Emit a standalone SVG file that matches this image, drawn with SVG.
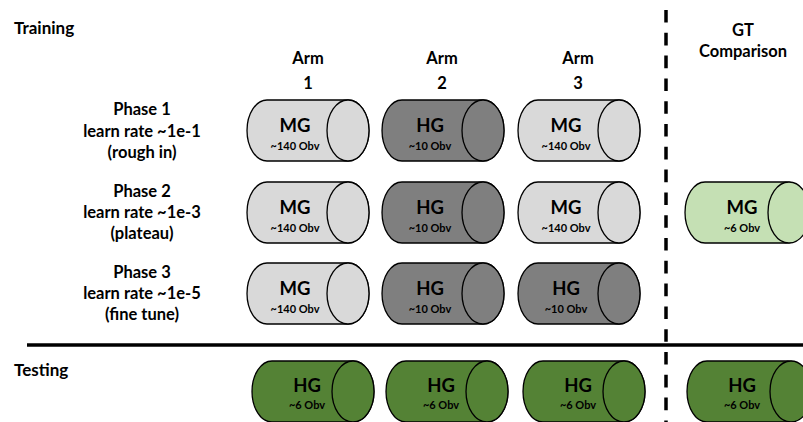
<svg xmlns="http://www.w3.org/2000/svg" width="803" height="422" viewBox="0 0 803 422">
<defs>
<style>
text{font-family:Lato,"Liberation Sans",Arial,sans-serif;font-weight:bold;fill:#000}
.lbl{font-size:16.5px;text-anchor:middle}
.hdr{font-size:17px}
.big{font-size:18.5px;text-anchor:middle}
.sm{font-size:11px;text-anchor:middle}
.cyl{stroke:#000;stroke-width:1.3}
.lg{fill:#d9d9d9}
.dg{fill:#7f7f7f}
.gg{fill:#c5e0b4}
.dgr{fill:#548235}
</style>
<path id="cylBody" d="M20,0 L101,0 A21 30.5 0 0 1 101,61 L20,61 A20 30.5 0 0 1 20,0 Z"/>
</defs>
<rect width="803" height="422" fill="#fff"/>
<text class="hdr" x="14" y="34">Training</text>
<text class="hdr" x="14" y="376">Testing</text>
<g id="arm-headers">
<text class="lbl" x="308" y="64">Arm</text><text class="lbl" x="308" y="89">1</text>
<text class="lbl" x="442" y="64">Arm</text><text class="lbl" x="442" y="89">2</text>
<text class="lbl" x="578" y="64">Arm</text><text class="lbl" x="578" y="89">3</text>
<text class="lbl" x="743" y="36">GT</text><text class="lbl" x="743" y="57">Comparison</text>
</g>
<g id="phase-labels">
<text class="lbl" x="142" y="115">Phase 1</text>
<text class="lbl" x="142" y="137">learn rate ~1e-1</text>
<text class="lbl" x="142" y="158">(rough in)</text>
<text class="lbl" x="142" y="197">Phase 2</text>
<text class="lbl" x="142" y="218">learn rate ~1e-3</text>
<text class="lbl" x="142" y="239">(plateau)</text>
<text class="lbl" x="142" y="278">Phase 3</text>
<text class="lbl" x="142" y="299">learn rate ~1e-5</text>
<text class="lbl" x="142" y="320">(fine tune)</text>
</g>
<g id="connectors">
<line x1="27" y1="345" x2="803" y2="345" stroke="#000" stroke-width="3.5"/>
<line x1="666" y1="10" x2="666" y2="422" stroke="#000" stroke-width="3.5" stroke-dasharray="12.6 10.2"/>
</g>
<g id="r1c1" transform="translate(247,100)"><use href="#cylBody" class="cyl lg"/><ellipse cx="101" cy="30.5" rx="21" ry="30.5" class="cyl lg"/><text class="big" x="48" y="32">MG</text><text class="sm" x="48" y="50">~140 Obv</text></g>
<g id="r1c2" transform="translate(382,100)"><use href="#cylBody" class="cyl dg"/><ellipse cx="101" cy="30.5" rx="21" ry="30.5" class="cyl dg"/><text class="big" x="48" y="32">HG</text><text class="sm" x="48" y="50">~10 Obv</text></g>
<g id="r1c3" transform="translate(518,100)"><use href="#cylBody" class="cyl lg"/><ellipse cx="101" cy="30.5" rx="21" ry="30.5" class="cyl lg"/><text class="big" x="48" y="32">MG</text><text class="sm" x="48" y="50">~140 Obv</text></g>
<g id="r2c1" transform="translate(247,182)"><use href="#cylBody" class="cyl lg"/><ellipse cx="101" cy="30.5" rx="21" ry="30.5" class="cyl lg"/><text class="big" x="48" y="32">MG</text><text class="sm" x="48" y="50">~140 Obv</text></g>
<g id="r2c2" transform="translate(382,182)"><use href="#cylBody" class="cyl dg"/><ellipse cx="101" cy="30.5" rx="21" ry="30.5" class="cyl dg"/><text class="big" x="48" y="32">HG</text><text class="sm" x="48" y="50">~10 Obv</text></g>
<g id="r2c3" transform="translate(518,182)"><use href="#cylBody" class="cyl lg"/><ellipse cx="101" cy="30.5" rx="21" ry="30.5" class="cyl lg"/><text class="big" x="48" y="32">MG</text><text class="sm" x="48" y="50">~140 Obv</text></g>
<g id="r2gt" transform="translate(685,182)"><use href="#cylBody" class="cyl gg"/><ellipse cx="104" cy="30.5" rx="21" ry="30.5" class="cyl gg"/><text class="big" x="57" y="32">MG</text><text class="sm" x="57" y="50">~6 Obv</text></g>
<g id="r3c1" transform="translate(247,263)"><use href="#cylBody" class="cyl lg"/><ellipse cx="101" cy="30.5" rx="21" ry="30.5" class="cyl lg"/><text class="big" x="48" y="32">MG</text><text class="sm" x="48" y="50">~140 Obv</text></g>
<g id="r3c2" transform="translate(382,263)"><use href="#cylBody" class="cyl dg"/><ellipse cx="101" cy="30.5" rx="21" ry="30.5" class="cyl dg"/><text class="big" x="48" y="32">HG</text><text class="sm" x="48" y="50">~10 Obv</text></g>
<g id="r3c3" transform="translate(518,263)"><use href="#cylBody" class="cyl dg"/><ellipse cx="101" cy="30.5" rx="21" ry="30.5" class="cyl dg"/><text class="big" x="48" y="32">HG</text><text class="sm" x="48" y="50">~10 Obv</text></g>
<g id="t1" transform="translate(252,361)"><use href="#cylBody" class="cyl dgr"/><ellipse cx="101" cy="30.5" rx="21" ry="30.5" class="cyl dgr"/><text class="big" x="55" y="31">HG</text><text class="sm" x="55" y="48">~6 Obv</text></g>
<g id="t2" transform="translate(386,361)"><use href="#cylBody" class="cyl dgr"/><ellipse cx="101" cy="30.5" rx="21" ry="30.5" class="cyl dgr"/><text class="big" x="55" y="31">HG</text><text class="sm" x="55" y="48">~6 Obv</text></g>
<g id="t3" transform="translate(523,361)"><use href="#cylBody" class="cyl dgr"/><ellipse cx="101" cy="30.5" rx="21" ry="30.5" class="cyl dgr"/><text class="big" x="55" y="31">HG</text><text class="sm" x="55" y="48">~6 Obv</text></g>
<g id="tgt" transform="translate(687,361)"><use href="#cylBody" class="cyl dgr"/><ellipse cx="104" cy="30.5" rx="21" ry="30.5" class="cyl dgr"/><text class="big" x="55" y="31">HG</text><text class="sm" x="55" y="48">~6 Obv</text></g>
</svg>
